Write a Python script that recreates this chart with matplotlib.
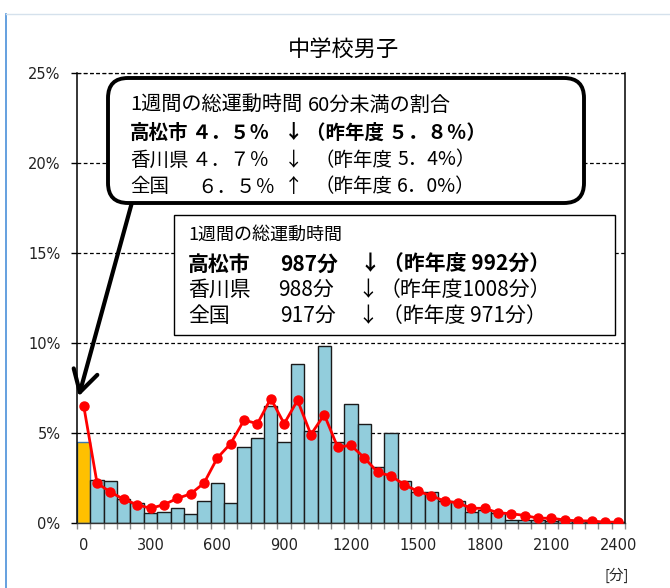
import matplotlib
matplotlib.use("Agg")
import matplotlib.pyplot as plt
from matplotlib.patches import FancyBboxPatch, Rectangle, FancyArrowPatch
from matplotlib.transforms import Affine2D
from matplotlib.lines import Line2D
import numpy as np

# Weekly total exercise time, bins of 60 minutes (0 = under 60 min)
minutes = list(range(0, 2401, 60))
takamatsu = [4.5, 2.4, 2.3, 1.3, 1.1, 0.55, 0.6, 0.8, 0.5, 1.2,
             2.2, 1.1, 4.2, 4.7, 6.5, 4.5, 8.8, 5.1, 9.8, 4.5,
             6.6, 5.5, 3.1, 5.0, 2.3, 1.7, 1.7, 1.2, 1.2, 0.6,
             0.7, 0.55, 0.15, 0.15, 0.15, 0.1, 0.15, 0.1, 0.05, 0.05,
             0.05]
national = [6.5, 2.2, 1.7, 1.3, 1.0, 0.8, 1.0, 1.35, 1.6, 2.2,
            3.6, 4.4, 5.7, 5.5, 6.9, 5.5, 6.8, 4.9, 6.0, 4.2,
            4.3, 3.6, 2.8, 2.6, 2.1, 1.75, 1.5, 1.2, 1.1, 0.8,
            0.8, 0.55, 0.5, 0.4, 0.25, 0.25, 0.15, 0.1, 0.1, 0.03,
            0.03]
x_tick_labels = ["0", "300", "600", "900", "1200", "1500", "1800", "2100", "2400"]
y_ticks = [0, 5, 10, 15, 20, 25]

plt.rcParams['font.family'] = ['Noto Sans CJK JP', 'DejaVu Sans']

W, H, DPI = 670, 588, 100
fig = plt.figure(figsize=(W / DPI, H / DPI), dpi=DPI)
# pixel coordinates measured from the top-left corner
px = Affine2D().scale(1 / DPI, -1 / DPI).translate(0, H / DPI) + fig.dpi_scale_trans

ax = fig.add_axes([77 / W, 1 - 522.7 / H, 548 / W, 450 / H])
xs = np.arange(len(minutes))
face = ['#FFC000'] + ['#92CDDC'] * (len(minutes) - 1)
edge = ['#3c78b4'] + ['#1a1a1a'] * (len(minutes) - 1)
ax.bar(xs, takamatsu, width=1.0, color=face, edgecolor=edge, linewidth=1.0, zorder=2)
ax.plot(xs, national, color='#FF0000', lw=2.0, marker='o', ms=6.5, zorder=4)

ax.set_xlim(-0.5, len(minutes) - 0.5)
ax.set_ylim(0, 25)
ax.set_yticks(y_ticks)
ax.set_yticklabels([f"{v}%" for v in y_ticks], fontsize=10.5, family='DejaVu Sans', color='#222222')
ax.set_xticks(xs[::5])
ax.set_xticklabels(x_tick_labels, fontsize=10.5, family='DejaVu Sans', color='#222222')
ax.set_xticks(np.arange(-0.5, len(minutes)), minor=True)
ax.tick_params(axis='x', which='major', length=0, pad=11)
ax.tick_params(axis='x', which='minor', length=4, width=1, color='#8c8c8c')
ax.tick_params(axis='y', which='major', length=4, width=1, color='black', pad=8)

ax.yaxis.grid(True, color='black', lw=0.9, ls=(0, (3, 2)), zorder=0)
ax.set_axisbelow(True)
ax.axhline(25, color='black', lw=0.9, ls=(0, (3, 2)), clip_on=False, zorder=1)
ax.spines['top'].set_visible(False)
for side in ('left', 'right'):
    ax.spines[side].set_color('black')
    ax.spines[side].set_linewidth(1.1)
ax.spines['bottom'].set_color('#333333')
ax.spines['bottom'].set_linewidth(1.0)

# page frame
fig.add_artist(Line2D([6, 6], [14, H], transform=px, color='#4a90d9', lw=1.2))
fig.add_artist(Line2D([6, W], [14, 14], transform=px, color='#d5e1ec', lw=1.0))

fig.text(343, 49, "中学校男子", transform=px, ha='center', va='center', fontsize=16)
fig.text(617, 575, "[分]", transform=px, ha='center', va='center', fontsize=10.5, color='#222222')

# callout: share under 60 minutes
arrow = FancyArrowPatch(posA=(134, 195), posB=(78, 399), transform=px,
                        arrowstyle='->,head_length=0.7,head_width=0.4',
                        mutation_scale=22, lw=3.0, color='black', zorder=5)
fig.add_artist(arrow)
box1 = FancyBboxPatch((108, 78), 476, 125, boxstyle="round,pad=0,rounding_size=20",
                      transform=px, fc='white', ec='black', lw=2.8, zorder=6)
fig.add_artist(box1)

box2 = Rectangle((174, 215), 441, 120, transform=px, fc='white', ec='black', lw=1.0, zorder=6)
fig.add_artist(box2)


def put(x, y, s, size=14, bold=False, ha='left'):
    fig.text(x, y, s, transform=px, ha=ha, va='center', fontsize=size,
             fontweight='bold' if bold else 'normal', color='black', zorder=7)


put(130, 105, "1週間の総運動時間", size=14.5)
put(308, 105, "60分未満の割合", size=14.5)
put(130, 133, "高松市", bold=True)
put(192, 133, "４．５％", bold=True)
put(294, 133, "↓", bold=True, ha='center')
put(306, 133, "（昨年度 ５．８％）", bold=True)
put(130, 160, "香川県")
put(192, 160, "４．７％")
put(294, 160, "↓", ha='center')
put(314, 160, "（昨年度", ha='left')
put(397, 160, "5．4%）")
put(130, 187, "全国")
put(197, 187, "６．５％")
put(294, 187, "↑", ha='center')
put(314, 187, "（昨年度")
put(397, 187, "6．0%）")

put(188, 235, "1週間の総運動時間", size=13)
put(188, 264, "高松市", size=15, bold=True)
put(280, 264, "987分", size=15, bold=True)
put(370, 264, "↓", size=15, bold=True, ha='center')
put(383, 264, "（昨年度 992分）", size=15, bold=True)
put(188, 290, "香川県", size=15)
put(278, 290, "988分", size=15)
put(368, 290, "↓", size=15, ha='center')
put(380, 290, "（昨年度1008分）", size=15)
put(188, 316, "全国", size=15)
put(280, 316, "917分", size=15)
put(368, 316, "↓", size=15, ha='center')
put(382, 316, "（昨年度 971分）", size=15)

fig.savefig("out.png", dpi=DPI)
